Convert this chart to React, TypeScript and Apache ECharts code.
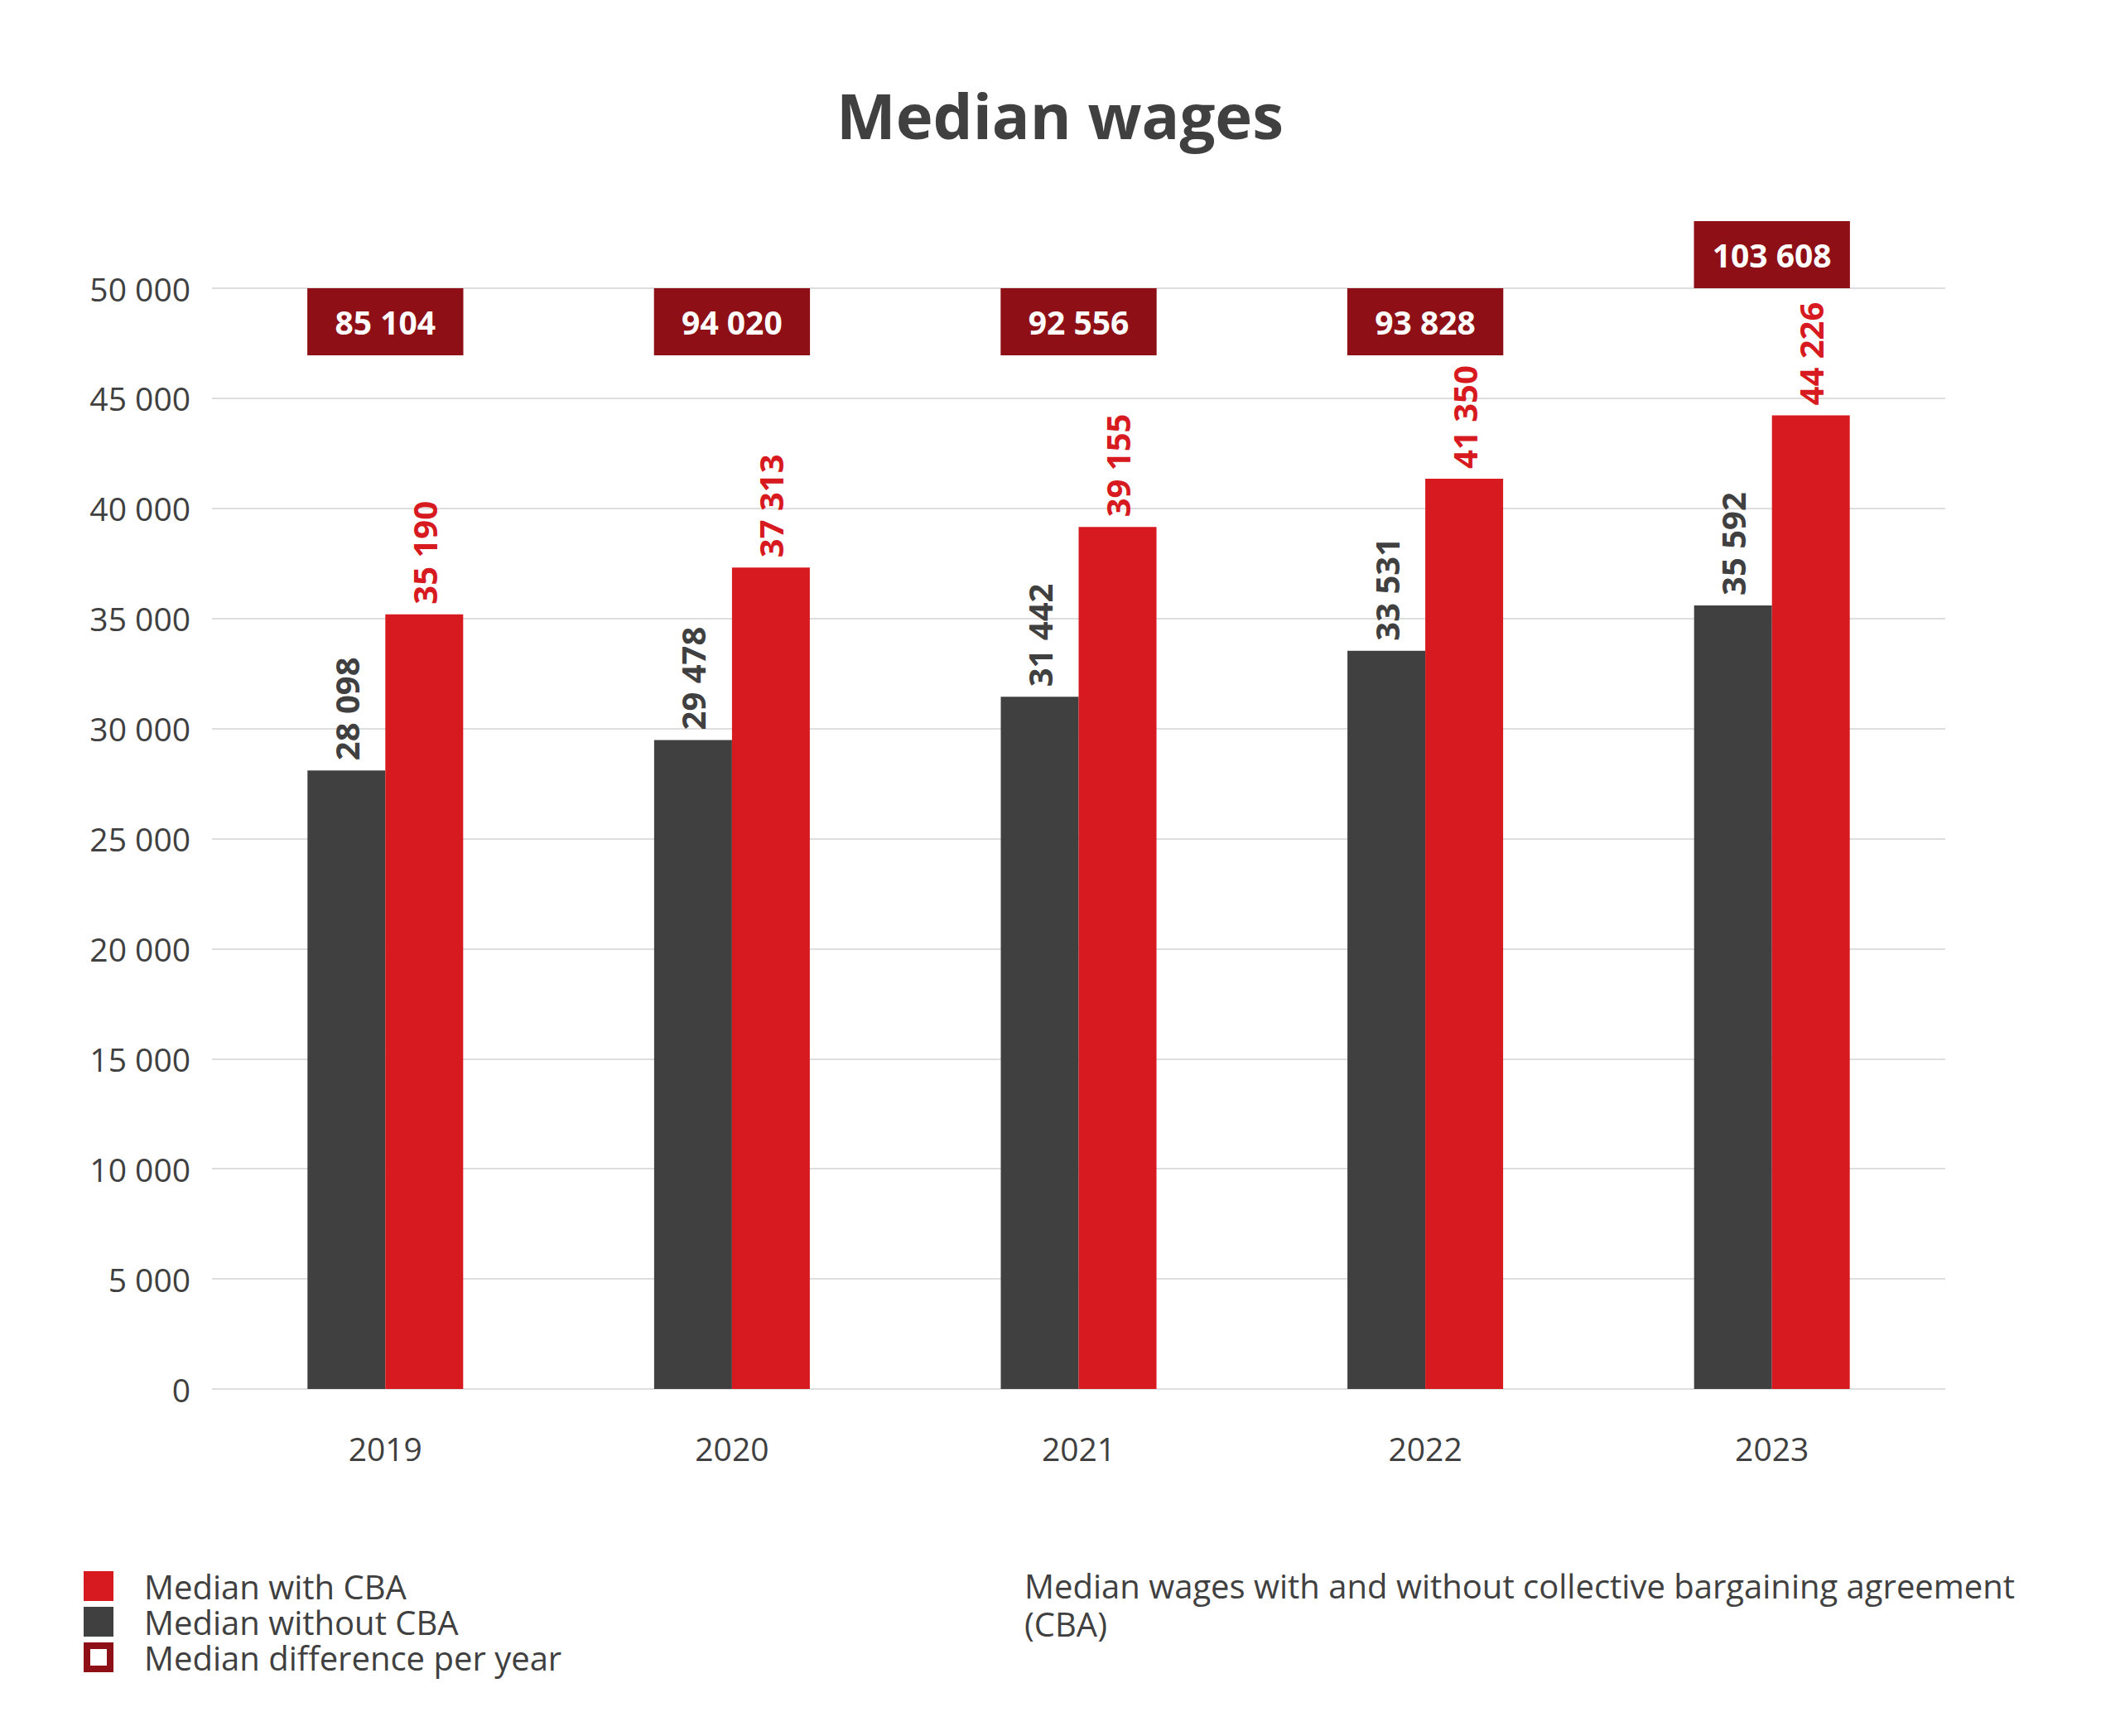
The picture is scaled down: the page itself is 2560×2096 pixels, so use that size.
import React, { useEffect, useRef } from 'react';
import * as echarts from 'echarts';
import type { EChartsOption } from 'echarts';

// data
const years = ['2019', '2020', '2021', '2022', '2023'];
const withoutCBA = [28098, 29478, 31442, 33531, 35592];
const withCBA = [35190, 37313, 39155, 41350, 44226];
const difference = [85104, 94020, 92556, 93828, 103608];
const yTicks = { min: 0, max: 50000, interval: 5000 };

const RED = '#d71920';
const DARK = '#404040';
const DIFF = '#8e1016';
const TEXT = '#404040';
const FONT = '"Open Sans", "Noto Sans", sans-serif';

// box layout (pixels)
const BOX_H = 81;
const BOX_SHARE = 0.45; // share of the category band
const LABEL_GAP = 12;
const LABEL_LEN = 121; // length of a rotated value label

const fmt = (n: number) => String(n).replace(/\B(?=(\d{3})+(?!\d))/g, ' ');

const MedianWages: React.FC = () => {
  const chartRef = useRef<HTMLDivElement>(null);

  useEffect(() => {
    if (!chartRef.current) return;
    document.body.style.margin = '0';

    const chart = echarts.init(chartRef.current, undefined, { renderer: 'svg' });

    const valueLabel = (color: string) => ({
      show: true,
      position: 'top' as const,
      distance: LABEL_GAP,
      rotate: 90,
      align: 'left' as const,
      verticalAlign: 'middle' as const,
      formatter: (p: any) => fmt(p.value),
      color,
      fontFamily: FONT,
      fontWeight: 'bold' as const,
      fontSize: 40,
    });

    const option: EChartsOption = {
      animation: false,
      title: {
        text: 'Median wages',
        left: 'center',
        top: 93,
        textStyle: {
          color: TEXT,
          fontFamily: FONT,
          fontWeight: 'bold',
          fontSize: 76,
          lineHeight: 80,
        },
      },
      legend: {
        orient: 'vertical',
        left: 96,
        top: 1890,
        itemWidth: 36,
        itemHeight: 36,
        itemGap: 3,
        selectedMode: false,
        textStyle: {
          color: TEXT,
          fontFamily: FONT,
          fontSize: 40,
          lineHeight: 36,
          padding: [0, 0, 0, 32],
        },
        data: [
          { name: 'Median with CBA', icon: 'rect' },
          { name: 'Median without CBA', icon: 'rect' },
          {
            name: 'Median difference per year',
            icon: 'path://M0,0H36V36H0Z M8,8V28H28V8Z',
          },
        ],
      },
      grid: {
        left: 256,
        right: 2560 - 2349,
        top: 348,
        bottom: 2096 - 1677,
      },
      xAxis: {
        type: 'category',
        data: years,
        axisLine: { show: false },
        axisTick: { show: false },
        axisLabel: {
          color: TEXT,
          fontFamily: FONT,
          fontSize: 39,
          lineHeight: 40,
          margin: 51,
        },
      },
      yAxis: {
        type: 'value',
        min: yTicks.min,
        max: yTicks.max,
        interval: yTicks.interval,
        axisLine: { show: false },
        axisTick: { show: false },
        axisLabel: {
          color: TEXT,
          fontFamily: FONT,
          fontSize: 39,
          margin: 26,
          formatter: (v: number) => fmt(v),
        },
        splitLine: { lineStyle: { color: '#dedede', width: 2 } },
      },
      graphic: [
        {
          type: 'text',
          left: 1237,
          top: 1891,
          style: {
            text: 'Median wages with and without collective bargaining agreement\n(CBA)',
            fill: TEXT,
            font: `40px ${FONT}`,
            lineHeight: 46,
          },
        },
      ],
      series: [
        {
          name: 'Median without CBA',
          type: 'bar',
          data: withoutCBA,
          barWidth: 94,
          barGap: '0%',
          itemStyle: { color: DARK },
          label: valueLabel(DARK),
        },
        {
          name: 'Median with CBA',
          type: 'bar',
          data: withCBA,
          barWidth: 94,
          itemStyle: { color: RED },
          label: valueLabel(RED),
        },
        {
          name: 'Median difference per year',
          type: 'custom',
          itemStyle: { color: DIFF },
          encode: { x: 0, y: 2 },
          data: difference.map((d, i) => [i, d, withCBA[i]]),
          renderItem: (params: any, api: any) => {
            const i = api.value(0);
            const diff = api.value(1);
            const red = api.value(2);
            const cx = api.coord([i, 0])[0];
            const band = api.size([1, 0])[0];
            const w = band * BOX_SHARE;
            const top = api.coord([i, yTicks.max])[1];
            const labelTop = api.coord([i, red])[1] - LABEL_GAP - LABEL_LEN;
            // lift the box one height up when the red label would run into it
            const y = labelTop < top + BOX_H ? top - BOX_H : top;
            return {
              type: 'group',
              children: [
                {
                  type: 'rect',
                  shape: { x: cx - w / 2, y, width: w, height: BOX_H },
                  style: { fill: DIFF },
                },
                {
                  type: 'text',
                  x: cx,
                  y: y + BOX_H / 2,
                  style: {
                    text: fmt(diff),
                    fill: '#ffffff',
                    font: `bold 39px ${FONT}`,
                    align: 'center',
                    verticalAlign: 'middle',
                  },
                },
              ],
            };
          },
        },
      ],
    };

    chart.setOption(option);

    const handleResize = () => chart.resize();
    window.addEventListener('resize', handleResize);

    return () => {
      window.removeEventListener('resize', handleResize);
      chart.dispose();
    };
  }, []);

  return <div ref={chartRef} style={{ width: '2560px', height: '2096px' }} />;
};

export default function App() {
  return <MedianWages />;
}
